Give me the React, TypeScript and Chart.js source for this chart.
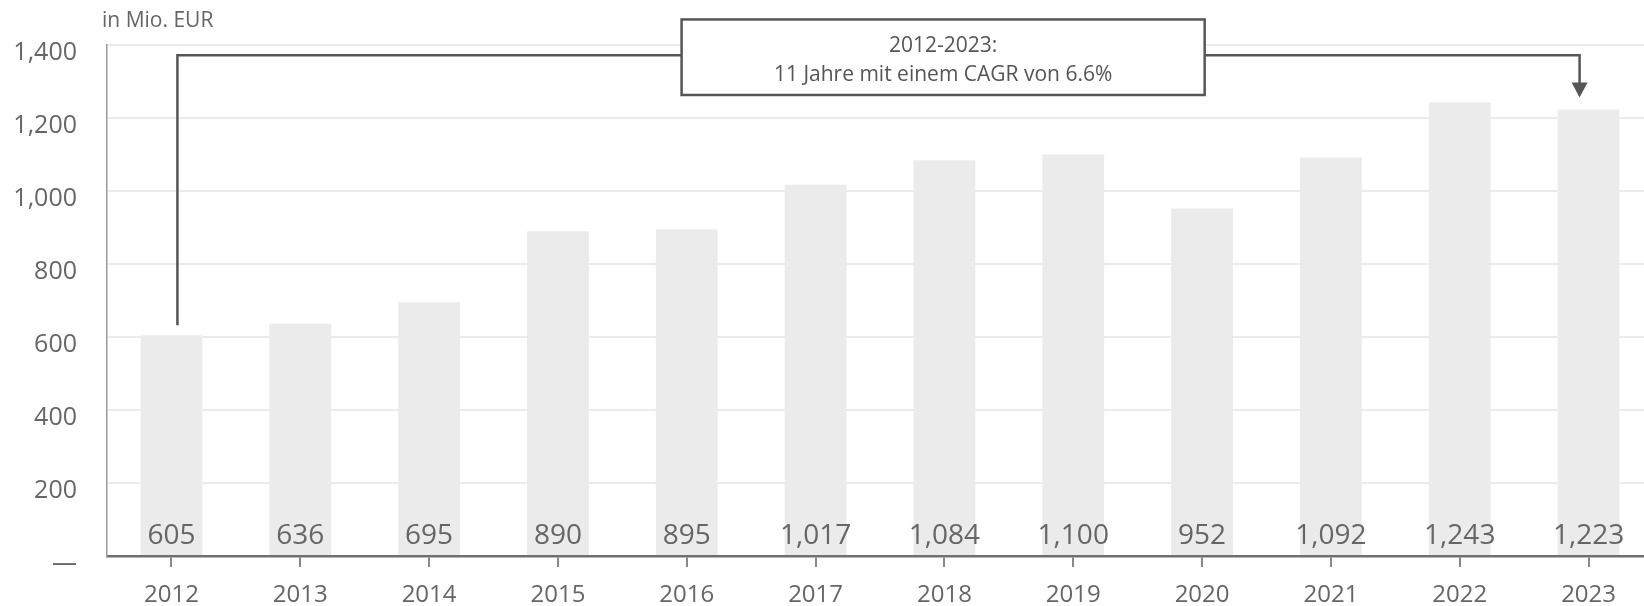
import React, { useEffect, useRef } from 'react';
import { Chart, registerables } from 'chart.js';

Chart.register(...registerables);

const categories = ['2012', '2013', '2014', '2015', '2016', '2017', '2018', '2019', '2020', '2021', '2022', '2023'];
const values = [605, 636, 695, 890, 895, 1017, 1084, 1100, 952, 1092, 1243, 1223];
const yTicks = [0, 200, 400, 600, 800, 1000, 1200, 1400];
const unitLabel = 'in Mio. EUR';
const annotationLines = ['2012-2023:', '11 Jahre mit einem CAGR von 6.6%'];

const FONT = '"Open Sans", "DejaVu Sans", sans-serif';
const TEXT = '#666666';
const LINE = '#565656';

const fmt = (v: number) => v.toLocaleString('en-US');

const overlayPlugin = {
  id: 'overlay',
  afterDatasetsDraw(chart: any) {
    const { ctx, chartArea } = chart;
    const xs = chart.scales.x;
    const ys = chart.scales.y;
    ctx.save();
    // value labels at bar bottoms
    ctx.fillStyle = TEXT;
    ctx.font = `28px ${FONT}`;
    ctx.textAlign = 'center';
    ctx.textBaseline = 'middle';
    values.forEach((v, i) => {
      ctx.fillText(fmt(v), xs.getPixelForValue(i), ys.bottom - 20);
    });

    // unit label
    ctx.font = `21px ${FONT}`;
    ctx.textAlign = 'left';
    ctx.fillText(unitLabel, chartArea.left - 5, chartArea.top - 24);

    // bracket annotation
    const last = values.length - 1;
    const xL = xs.getPixelForValue(0) + 6;
    const xR = xs.getPixelForValue(last) - 9;
    const yTop = ys.getPixelForValue(1372);
    const yLB = ys.getPixelForValue(values[0]) - 10;
    const yTip = ys.getPixelForValue(values[last]) - 12;
    const bx0 = xs.getPixelForValue(3.96);
    const bx1 = xs.getPixelForValue(8.02);
    const by0 = ys.getPixelForValue(1470);
    const by1 = ys.getPixelForValue(1263);

    ctx.strokeStyle = LINE;
    ctx.lineWidth = 2.5;
    ctx.lineJoin = 'miter';
    ctx.beginPath();
    ctx.moveTo(xL, yLB);
    ctx.lineTo(xL, yTop);
    ctx.lineTo(xR, yTop);
    ctx.lineTo(xR, yTip - 14);
    ctx.stroke();
    ctx.fillStyle = LINE;
    ctx.beginPath();
    ctx.moveTo(xR - 8, yTip - 15);
    ctx.lineTo(xR + 8, yTip - 15);
    ctx.lineTo(xR, yTip);
    ctx.closePath();
    ctx.fill();

    ctx.fillStyle = '#ffffff';
    ctx.fillRect(bx0, by0, bx1 - bx0, by1 - by0);
    ctx.strokeStyle = LINE;
    ctx.lineWidth = 2.5;
    ctx.strokeRect(bx0, by0, bx1 - bx0, by1 - by0);

    ctx.fillStyle = '#555555';
    ctx.font = `21px ${FONT}`;
    ctx.textAlign = 'center';
    const tx = (bx0 + bx1) / 2;
    ctx.fillText(annotationLines[0], tx, by0 + 27);
    ctx.fillText(annotationLines[1], tx, by0 + 56);
    ctx.restore();
  },
};

export default function App() {
  const ref = useRef<HTMLCanvasElement | null>(null);
  useEffect(() => {
    if (!ref.current) return;
    const chart = new Chart(ref.current, {
      type: 'bar',
      data: {
        labels: categories,
        datasets: [
          {
            data: values,
            backgroundColor: '#ebebeb',
            borderWidth: 0,
            categoryPercentage: 1,
            barPercentage: 0.48,
          },
        ],
      },
      options: {
        responsive: false,
        animation: false,
        devicePixelRatio: 1,
        layout: { padding: { top: 38, right: 7, bottom: 0, left: 0 } },
        plugins: { legend: { display: false }, tooltip: { enabled: false } },
        scales: {
          x: {
            offset: true,
            grid: {
              display: true,
              offset: false,
              drawOnChartArea: false,
              drawTicks: true,
              tickLength: 11,
              color: '#888888',
              lineWidth: 2,
            },
            border: { display: true, color: '#707070', width: 2.5 },
            ticks: {
              color: TEXT,
              font: { family: FONT, size: 24 },
              padding: 14,
              maxRotation: 0,
            },
            afterFit(scale: any) {
              scale.height = 50;
            },
          },
          y: {
            min: 0,
            max: 1400,
            afterBuildTicks(scale: any) {
              scale.ticks = yTicks.map((v) => ({ value: v }));
            },
            grid: { color: '#ebebeb', lineWidth: 2, drawTicks: false },
            border: { display: true, color: '#9a9a9a', width: 1.5 },
            ticks: {
              color: TEXT,
              font: { family: FONT, size: 25 },
              padding: 30,
              labelOffset: 8,
              callback: (v: any) => (Number(v) === 0 ? '—' : fmt(Number(v))),
            },
            afterFit(scale: any) {
              scale.width = 107;
            },
          },
        },
      },
      plugins: [overlayPlugin],
    });
    return () => chart.destroy();
  }, []);
  return (
    <div
      style={{
        position: 'fixed',
        left: 0,
        top: 0,
        width: 1644,
        height: 606,
        overflow: 'hidden',
        background: '#ffffff',
      }}
    >
      <canvas ref={ref} width={1660} height={606} style={{ display: 'block', width: 1660, height: 606 }} />
    </div>
  );
}
